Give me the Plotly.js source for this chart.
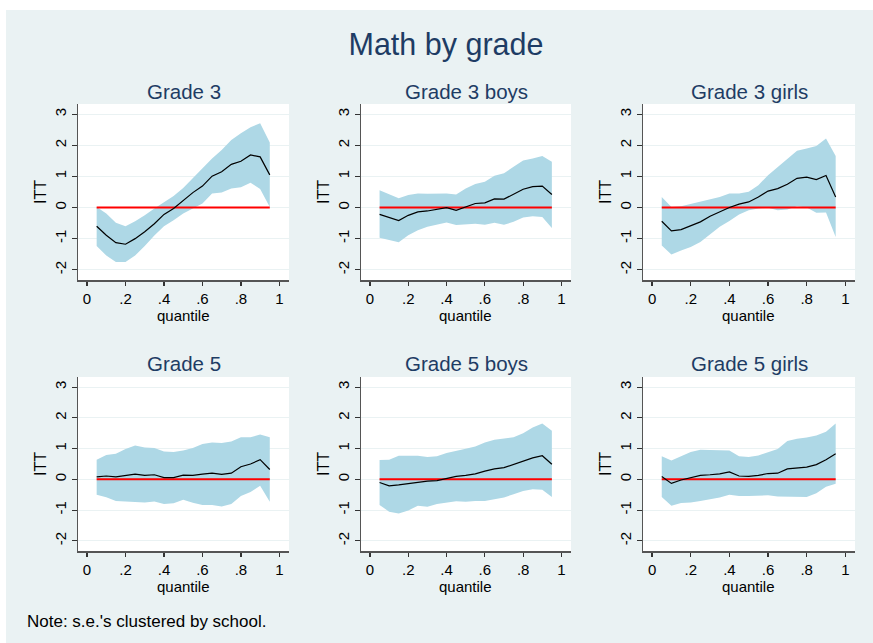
<!DOCTYPE html>
<html>
<head>
<meta charset="utf-8">
<script src="https://cdn.plot.ly/plotly-3.0.1.min.js"></script>
<style>html,body{margin:0;padding:0;background:#fff;}#chart{width:873px;height:643px;}</style>
</head>
<body>
<div id="chart"></div>
<script>
// ---------- data ----------
const quantiles = [0.05,0.10,0.15,0.20,0.25,0.30,0.35,0.40,0.45,0.50,0.55,0.60,0.65,0.70,0.75,0.80,0.85,0.90,0.95];
const zeroRef   = [0,0,0,0,0,0,0,0,0,0,0,0,0,0,0,0,0,0,0];

const panelTitles = ["Grade 3","Grade 3 boys","Grade 3 girls","Grade 5","Grade 5 boys","Grade 5 girls"];

const g3_est = [-0.60,-0.89,-1.13,-1.18,-1.00,-0.78,-0.52,-0.22,-0.03,0.24,0.48,0.69,1.01,1.15,1.39,1.49,1.69,1.63,1.05];
const g3_hi  = [0.02,-0.19,-0.49,-0.60,-0.44,-0.25,-0.03,0.18,0.37,0.63,0.94,1.26,1.58,1.85,2.17,2.39,2.58,2.71,2.09];
const g3_lo  = [-1.24,-1.54,-1.75,-1.75,-1.54,-1.24,-0.90,-0.60,-0.41,-0.19,-0.03,0.13,0.45,0.48,0.61,0.65,0.80,0.60,0.02];

const g3b_est = [-0.22,-0.33,-0.42,-0.25,-0.14,-0.11,-0.05,0.00,-0.09,0.01,0.13,0.15,0.28,0.27,0.42,0.59,0.67,0.69,0.42];
const g3b_hi  = [0.56,0.43,0.30,0.40,0.45,0.44,0.45,0.45,0.42,0.61,0.76,0.83,1.02,1.10,1.31,1.51,1.58,1.66,1.47];
const g3b_lo  = [-0.97,-1.05,-1.12,-0.89,-0.73,-0.62,-0.54,-0.48,-0.56,-0.55,-0.52,-0.55,-0.49,-0.55,-0.46,-0.32,-0.28,-0.30,-0.66];

const g3g_est = [-0.44,-0.75,-0.71,-0.59,-0.46,-0.28,-0.14,0.00,0.11,0.18,0.34,0.53,0.61,0.75,0.94,0.98,0.90,1.03,0.34];
const g3g_hi  = [0.34,0.02,0.04,0.11,0.18,0.27,0.34,0.45,0.45,0.51,0.72,1.04,1.31,1.55,1.83,1.90,1.98,2.22,1.66];
const g3g_lo  = [-1.22,-1.51,-1.38,-1.27,-1.11,-0.86,-0.62,-0.43,-0.22,-0.09,-0.03,-0.01,-0.09,-0.06,0.04,0.00,-0.17,-0.16,-0.95];

const g5_est = [0.08,0.11,0.08,0.13,0.17,0.13,0.15,0.06,0.06,0.14,0.13,0.17,0.20,0.16,0.20,0.41,0.50,0.64,0.32];
const g5_hi  = [0.64,0.79,0.83,0.99,1.10,1.04,1.02,0.91,0.89,0.94,1.02,1.15,1.20,1.18,1.23,1.37,1.37,1.46,1.37];
const g5_lo  = [-0.50,-0.58,-0.70,-0.72,-0.75,-0.75,-0.72,-0.80,-0.78,-0.66,-0.76,-0.83,-0.83,-0.88,-0.80,-0.54,-0.41,-0.21,-0.73];

const g5b_est = [-0.10,-0.21,-0.18,-0.14,-0.08,-0.06,-0.04,0.04,0.10,0.13,0.18,0.27,0.34,0.38,0.48,0.59,0.70,0.77,0.49];
const g5b_hi  = [0.63,0.64,0.77,0.77,0.77,0.73,0.75,0.86,0.94,1.00,1.07,1.20,1.29,1.34,1.37,1.50,1.69,1.82,1.58];
const g5b_lo  = [-0.83,-1.05,-1.11,-1.01,-0.86,-0.89,-0.80,-0.75,-0.71,-0.73,-0.70,-0.70,-0.64,-0.59,-0.48,-0.38,-0.32,-0.34,-0.57];

const g5g_est = [0.09,-0.13,-0.02,0.05,0.13,0.15,0.18,0.24,0.11,0.10,0.13,0.19,0.20,0.34,0.36,0.40,0.48,0.64,0.83];
const g5g_hi  = [0.75,0.61,0.75,0.89,0.96,0.96,0.96,0.94,0.75,0.73,0.78,0.89,0.99,1.25,1.32,1.36,1.43,1.55,1.82];
const g5g_lo  = [-0.57,-0.86,-0.77,-0.75,-0.70,-0.64,-0.59,-0.50,-0.54,-0.54,-0.52,-0.52,-0.56,-0.57,-0.57,-0.57,-0.45,-0.24,-0.14];

const xTickVals = [0,0.2,0.4,0.6,0.8,1];
const xTickText = ["0",".2",".4",".6",".8","1"];
const yTickVals = [-2,-1,0,1,2,3];
const yTickText = ["-2","-1","0","1","2","3"];

const panels = [
  {est:g3_est, lo:g3_lo, hi:g3_hi},
  {est:g3b_est, lo:g3b_lo, hi:g3b_hi},
  {est:g3g_est, lo:g3g_lo, hi:g3g_hi},
  {est:g5_est, lo:g5_lo, hi:g5_hi},
  {est:g5b_est, lo:g5b_lo, hi:g5b_hi},
  {est:g5g_est, lo:g5g_lo, hi:g5g_hi}
];

// ---------- layout geometry (pixels) ----------
const W = 873, H = 643;
const colPx = [[78,289],[361,571],[643,855]];
const rowPx = [[104,280],[377,551]];
const titleColor = "#1e3c64";
const bandColor = "rgb(174,216,230)";
const FONT = "Liberation Sans, Arial, sans-serif";

const traces = [];
const layout = {
  width: W, height: H,
  margin: {l:0, r:0, t:0, b:0},
  paper_bgcolor: "#eaf2f3",
  plot_bgcolor: "#ffffff",
  showlegend: false,
  font: {family: FONT, color: "#000"},
  title: {text: "Math by grade", x: 446/W, xref: "paper", y: 1 - 44/H, yref: "paper",
          xanchor: "center", yanchor: "middle", font: {size: 30.5, color: titleColor, family: FONT}},
  annotations: [],
  shapes: [
    {type:"rect", xref:"paper", yref:"paper", x0:0, x1:1, y0:1-10/H, y1:1, fillcolor:"#ffffff", line:{width:0}, layer:"below"},
    {type:"rect", xref:"paper", yref:"paper", x0:0, x1:6/W, y0:0, y1:1, fillcolor:"#ffffff", line:{width:0}, layer:"below"}
  ]
};

panels.forEach((p, i) => {
  const r = Math.floor(i / 3), c = i % 3;
  const n = i + 1;
  const xa = "x" + (n === 1 ? "" : n), ya = "y" + (n === 1 ? "" : n);
  traces.push({x: quantiles, y: p.lo, xaxis: xa, yaxis: ya, mode: "lines", line: {width: 0, color: bandColor}, hoverinfo: "skip"});
  traces.push({x: quantiles, y: p.hi, xaxis: xa, yaxis: ya, mode: "lines", line: {width: 0, color: bandColor}, fill: "tonexty", fillcolor: bandColor, hoverinfo: "skip"});
  traces.push({x: quantiles, y: zeroRef, xaxis: xa, yaxis: ya, mode: "lines", line: {width: 2, color: "#ff0000"}});
  traces.push({x: quantiles, y: p.est, xaxis: xa, yaxis: ya, mode: "lines", line: {width: 1.2, color: "#000000"}});

  const xd = [colPx[c][0]/W, colPx[c][1]/W];
  const yd = [1 - rowPx[r][1]/H, 1 - rowPx[r][0]/H];
  const xk = "xaxis" + (n === 1 ? "" : n), yk = "yaxis" + (n === 1 ? "" : n);
  layout[xk] = {
    domain: xd, anchor: ya, range: [-0.047, 1.05],
    tickvals: xTickVals, ticktext: xTickText, ticks: "outside", ticklen: 4, tickwidth: 1.2, tickcolor: "#333",
    showline: true, linecolor: "#555", linewidth: 1.5, showgrid: false, zeroline: false,
    tickfont: {size: 15, family: FONT, color: "#000"}
  };
  layout[yk] = {
    domain: yd, anchor: xa, range: [-2.33, 3.33],
    tickvals: yTickVals, ticktext: yTickText, ticks: "outside", ticklen: 5, tickwidth: 1.2, tickcolor: "#333",
    tickangle: -90,
    showline: true, linecolor: "#555", linewidth: 1.5, showgrid: true, gridcolor: "#eaf2f3", gridwidth: 1, zeroline: false,
    tickfont: {size: 15, family: FONT, color: "#000"},
    title: {text: "ITT", font: {size: 16, family: FONT, color: "#000"}, standoff: 1}
  };
  layout.annotations.push({
    text: panelTitles[i], xref: "paper", yref: "paper",
    x: (xd[0] + xd[1]) / 2, y: 1 - (r === 0 ? 91 : 363)/H,
    xanchor: "center", yanchor: "middle", showarrow: false,
    font: {size: 20.5, color: titleColor, family: FONT}
  });
  // x-axis title placed as annotation to sit tight under tick labels
  layout.annotations.push({
    text: "quantile", xref: "paper", yref: "paper",
    x: (colPx[c][0] + 9 + (colPx[c][1] - colPx[c][0] - 19) / 2) / W, y: 1 - (rowPx[r][1] + 25)/H,
    xanchor: "center", yanchor: "top", showarrow: false,
    font: {size: 15, color: "#000", family: FONT}
  });
});

layout.annotations.push({
  text: "Note: s.e.'s clustered by school.", xref: "paper", yref: "paper",
  x: 25/W, y: 1 - 621/H, xanchor: "left", yanchor: "middle", showarrow: false,
  font: {size: 17, color: "#000", family: FONT}
});

Plotly.newPlot("chart", traces, layout, {displayModeBar: false, staticPlot: true});
</script>
</body>
</html>
